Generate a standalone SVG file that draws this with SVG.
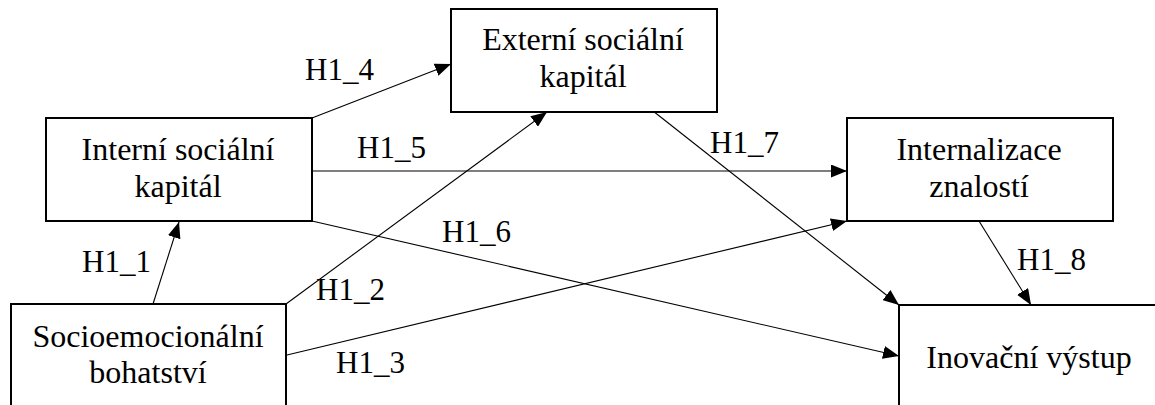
<svg xmlns="http://www.w3.org/2000/svg" width="1155" height="405" viewBox="0 0 1155 405">
  <style>
    .box { fill: #ffffff; stroke: #000000; stroke-width: 2; }
    .node-text { font-size: 32px; fill: #000000; text-anchor: middle; }
    .edge { stroke: #000000; stroke-width: 1.1; fill: none; marker-end: url(#arrow); }
    .edge-label { font-size: 31px; fill: #000000; }
  </style>
  <defs>
    <marker id="arrow" markerUnits="userSpaceOnUse" markerWidth="16" markerHeight="13" refX="16" refY="6.5" orient="auto">
      <path d="M0,0 L16,6.5 L0,13 Z" fill="#000000"/>
    </marker>
  </defs>

  <rect width="1155" height="405" fill="#ffffff"/>

  <g font-family="'Liberation Serif', 'DejaVu Serif', 'Times New Roman', serif">
  <!-- connectors -->
  <g id="connectors">
    <line class="edge" x1="153" y1="304" x2="179" y2="222"/>
    <line class="edge" x1="286" y1="304" x2="547" y2="112"/>
    <line class="edge" x1="287" y1="355" x2="847" y2="221"/>
    <line class="edge" x1="312" y1="118" x2="451" y2="64"/>
    <line class="edge" x1="312" y1="171" x2="847" y2="171"/>
    <line class="edge" x1="312" y1="221" x2="899" y2="356"/>
    <line class="edge" x1="653" y1="111" x2="899" y2="305"/>
    <line class="edge" x1="979" y1="221" x2="1031" y2="305"/>

    <text class="edge-label" x="82" y="272">H1_1</text>
    <text class="edge-label" x="316" y="300">H1_2</text>
    <text class="edge-label" x="336" y="373">H1_3</text>
    <text class="edge-label" x="305" y="80">H1_4</text>
    <text class="edge-label" x="357" y="158">H1_5</text>
    <text class="edge-label" x="442" y="242">H1_6</text>
    <text class="edge-label" x="710" y="153">H1_7</text>
    <text class="edge-label" x="1017" y="270">H1_8</text>
  </g>

  <!-- nodes -->
  <g id="interni">
    <rect class="box" x="46" y="118" width="266" height="103"/>
    <text class="node-text" x="178" y="160">Interní sociální</text>
    <text class="node-text" x="178" y="197">kapitál</text>
  </g>

  <g id="externi">
    <rect class="box" x="451" y="9" width="266" height="103"/>
    <text class="node-text" x="583" y="50">Externí sociální</text>
    <text class="node-text" x="583" y="87">kapitál</text>
  </g>

  <g id="internalizace">
    <rect class="box" x="847" y="118" width="266" height="103"/>
    <text class="node-text" x="979" y="160">Internalizace</text>
    <text class="node-text" x="979" y="197">znalostí</text>
  </g>

  <g id="socioemocionalni">
    <rect class="box" x="11" y="304" width="275" height="120"/>
    <text class="node-text" x="148" y="347">Socioemocionální</text>
    <text class="node-text" x="148" y="383">bohatství</text>
  </g>

  <g id="inovacni">
    <rect class="box" x="899" y="305" width="280" height="120"/>
    <text class="node-text" x="1029" y="368">Inovační výstup</text>
  </g>
  </g>
</svg>
